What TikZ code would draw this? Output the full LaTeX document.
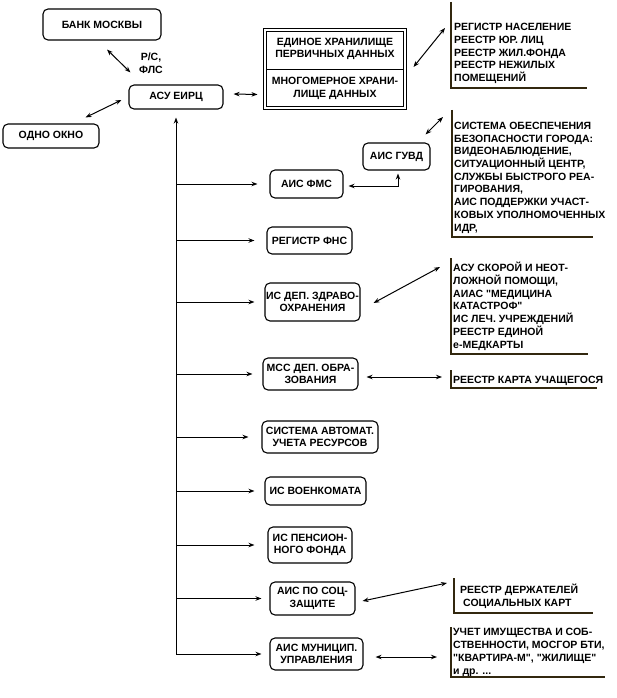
\documentclass[tikz,border=0pt]{standalone}
\usepackage{fontspec}
\setmainfont{Liberation Sans}
\newfontfamily\diagfam{Liberation Sans}
\usetikzlibrary{arrows.meta,calc}
\newcommand\diagfont{\diagfam\fontsize{10.5}{12.5}\selectfont\bfseries}
\newcommand\listfont{\diagfam\fontsize{10.5}{12.7}\selectfont\bfseries}
\definecolor{bracketcol}{RGB}{50,40,15}
\begin{document}
\begin{tikzpicture}[x=1pt,y=-1pt,
  box/.style={draw, rounded corners=5pt, line width=1.1pt, inner sep=0pt, align=center, font=\diagfont},
  conn/.style={line width=1pt, -{Stealth[length=6pt,width=4.5pt]}},
  dconn/.style={line width=1pt, {Stealth[length=6pt,width=4.5pt]}-{Stealth[length=6pt,width=4.5pt]}},
  lbl/.style={inner sep=0pt, align=center, font=\diagfont},
  list/.style={anchor=base west, inner sep=0pt, align=left, font=\listfont},
  brk/.style={line width=1.1pt, draw=bracketcol}]
\fill[white] (0,0) rectangle (616,698);
\useasboundingbox (0,0) rectangle (616,698);

% top nodes
\node[box, minimum width=118pt, minimum height=31pt] (bank) at (102,24.5) {БАНК МОСКВЫ};
\node[box, minimum width=94pt, minimum height=24pt] (asu) at (176,97) {АСУ ЕИРЦ};
\node[box, minimum width=96pt, minimum height=24pt] (okno) at (51,136) {ОДНО ОКНО};
\node[lbl] (rs) at (151,63) {Р/С,\\ФЛС};

% storage
\node[draw, double, double distance=2.5pt, line width=1pt, minimum width=140pt, minimum height=78pt, inner sep=0pt] (store) at (335,69) {};
\draw[line width=1pt] ($(store.west)+(2.25,1)$) -- ($(store.east)+(-2.25,1)$);
\node[lbl] (store1) at (335,49) {ЕДИНОЕ ХРАНИЛИЩЕ\\ПЕРВИЧНЫХ ДАННЫХ};
\node[lbl] (store2) at (335,88.5) {МНОГОМЕРНОЕ ХРАНИ-\\ЛИЩЕ ДАННЫХ};

% system boxes
\node[box, minimum width=73pt, minimum height=28pt] (fms) at (306.5,184) {АИС ФМС};
\node[box, minimum width=67pt, minimum height=27pt] (guvd) at (396.5,156.5) {АИС ГУВД};
\node[box, minimum width=85pt, minimum height=27pt] (fns) at (309.5,240.5) {РЕГИСТР ФНС};
\node[box, minimum width=95pt, minimum height=38pt] (zdrav) at (312.5,302) {ИС ДЕП. ЗДРАВО-\\ОХРАНЕНИЯ};
\node[box, minimum width=95pt, minimum height=32pt] (mss) at (310.5,374) {МСС ДЕП. ОБРА-\\ЗОВАНИЯ};
\node[box, minimum width=116pt, minimum height=32pt] (avtomat) at (320,437) {СИСТЕМА АВТОМАТ.\\УЧЕТА РЕСУРСОВ};
\node[box, minimum width=101pt, minimum height=28pt] (voenkom) at (315.5,491) {ИС ВОЕНКОМАТА};
\node[box, minimum width=84pt, minimum height=36pt] (pension) at (310,545) {ИС ПЕНСИОН-\\НОГО ФОНДА};
\node[box, minimum width=85pt, minimum height=33pt] (soc) at (312.5,598.5) {АИС ПО СОЦ-\\ЗАЩИТЕ};
\node[box, minimum width=93pt, minimum height=32pt] (munic) at (316.5,654) {АИС МУНИЦИП.\\УПРАВЛЕНИЯ};

% registries (bracketed lists); base anchor = baseline of the last line
\node[list] (reg1) at (454,81.5) {РЕГИСТР НАСЕЛЕНИЕ\\РЕЕСТР ЮР. ЛИЦ\\РЕЕСТР ЖИЛ.ФОНДА\\РЕЕСТР НЕЖИЛЫХ\\ПОМЕЩЕНИЙ};
\draw[brk] (451,2) -- (451,88) -- (587,88);
\node[list] (reg2) at (454,231) {СИСТЕМА ОБЕСПЕЧЕНИЯ\\БЕЗОПАСНОСТИ ГОРОДА:\\ВИДЕОНАБЛЮДЕНИЕ,\\СИТУАЦИОННЫЙ ЦЕНТР,\\СЛУЖБЫ БЫСТРОГО РЕА-\\ГИРОВАНИЯ,\\АИС ПОДДЕРЖКИ УЧАСТ-\\КОВЫХ УПОЛНОМОЧЕННЫХ\\ИДР,};
\draw[brk] (452,110) -- (452,237) -- (593,237);
\node[list] (reg3) at (453,348) {АСУ СКОРОЙ И НЕОТ-\\ЛОЖНОЙ ПОМОЩИ,\\АИАС "МЕДИЦИНА\\КАТАСТРОФ"\\ИС ЛЕЧ. УЧРЕЖДЕНИЙ\\РЕЕСТР ЕДИНОЙ\\e-МЕДКАРТЫ};
\draw[brk] (451,258) -- (451,354) -- (588,354);
\node[list] (reg4) at (453,383) {РЕЕСТР КАРТА УЧАЩЕГОСЯ};
\draw[brk] (451,370) -- (451,388) -- (597,388);
\node[list] (reg5) at (460,606.5) {РЕЕСТР ДЕРЖАТЕЛЕЙ\\\hspace*{3pt}СОЦИАЛЬНЫХ КАРТ};
\draw[brk] (454,578) -- (454,613) -- (593,613);
\node[list] (reg6) at (453,674) {УЧЕТ ИМУЩЕСТВА И СОБ-\\СТВЕННОСТИ, МОСГОР БТИ,\\"КВАРТИРА-М", "ЖИЛИЩЕ"\\и др. ...};
\draw[brk] (451,627) -- (451,677) -- (605,677);

% free arrow ends at the registries
\coordinate (b1) at (445,28);
\coordinate (b2) at (443,117);
\coordinate (b3) at (440,267);
\coordinate (b4) at (442,377);
\coordinate (b5) at (447,583);
\coordinate (b6) at (437,657);

% connectors
\draw[dconn] ($(bank.south)+(5,9)$) -- ($(asu.north west)+(2,-12)$);
\draw[dconn] ($(okno.north east)+(-14,-6)$) -- ($(asu.west)+(-7,3)$);
\draw[dconn] ($(asu.east)+(10,-3)$) -- ($(store.south west)+(-7,-14)$);
\draw[dconn] ($(store.east)+(8,-2)$) -- (b1);
\draw[dconn] ($(guvd.north east)+(-5,-8)$) -- (b2);
\draw[dconn] ($(fms.east)+(5,2)$) -| ($(guvd.south)+(1.5,3)$);
\draw[dconn] ($(zdrav.east)+(13,1)$) -- (b3);
\draw[dconn] ($(mss.east)+(8,3)$) -- (b4);
\draw[dconn] ($(soc.east)+(7,2.5)$) -- (b5);
\draw[dconn] ($(munic.east)+(12,3)$) -- (b6);

% trunk and branches
\coordinate (trunkbot) at (176,654);
\draw[conn, shorten >=8pt] (trunkbot) -- (asu.south);
\foreach \n/\g in {fms/12, fns/12, zdrav/10, mss/10, avtomat/13, voenkom/10, pension/13, soc/8, munic/8}
  \draw[conn, shorten >=\g pt] (\n.west -| trunkbot) -- (\n.west);
\end{tikzpicture}
\end{document}
